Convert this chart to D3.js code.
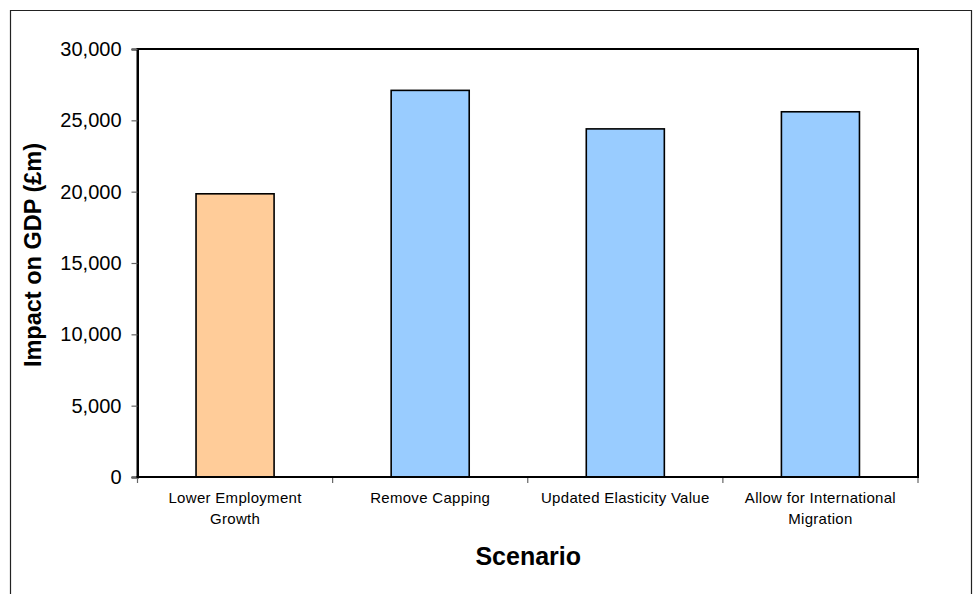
<!DOCTYPE html>
<html>
<head>
<meta charset="utf-8">
<script src="https://cdn.jsdelivr.net/npm/d3@7"></script>
<style>
  html, body { margin: 0; padding: 0; background: #fff; }
  svg { display: block; }
  text { font-family: "Liberation Sans", Arial, sans-serif; fill: #000; }
</style>
</head>
<body>
<svg id="chart" width="974" height="594"></svg>
<script>
// Scenario results: GDP impact in £m
const scenarios = [
  ["Lower Employment", "Growth"],
  ["Remove Capping"],
  ["Updated Elasticity Value"],
  ["Allow for International", "Migration"]
];
const impactValues = [19850, 27100, 24400, 25600];
const barColors = ["#FFCC99", "#99CCFF", "#99CCFF", "#99CCFF"];
const yTicks = [0, 5000, 10000, 15000, 20000, 25000, 30000];

const svg = d3.select("#chart");
const plot = { left: 137.5, top: 49, right: 918, bottom: 477 };

// Outer chart frame (runs off the bottom edge)
svg.append("path")
  .attr("d", "M10.5,600 V10.5 H971.5 V600")
  .attr("fill", "none")
  .attr("stroke", "#222")
  .attr("stroke-width", 1.2);

const x = d3.scaleBand()
  .domain(d3.range(scenarios.length))
  .range([plot.left, plot.right])
  .paddingInner(0.6)
  .paddingOuter(0.3);

const y = d3.scaleLinear()
  .domain([0, 30000])
  .range([plot.bottom, plot.top]);

// Plot area border
svg.append("rect")
  .attr("x", plot.left).attr("y", plot.top)
  .attr("width", plot.right - plot.left)
  .attr("height", plot.bottom - plot.top)
  .attr("fill", "#fff")
  .attr("stroke", "#000")
  .attr("stroke-width", 2);

// Bars
svg.append("g").selectAll("rect")
  .data(impactValues)
  .join("rect")
  .attr("x", (d, i) => x(i))
  .attr("y", d => y(d))
  .attr("width", x.bandwidth())
  .attr("height", d => y(0) - y(d))
  .attr("fill", (d, i) => barColors[i])
  .attr("stroke", "#000")
  .attr("stroke-width", 1.6);

// Y axis
const yAxis = svg.append("g")
  .attr("transform", `translate(${plot.left},0)`)
  .call(d3.axisLeft(y).tickValues(yTicks).tickSize(6).tickPadding(10)
    .tickFormat(d3.format(",")));
yAxis.select(".domain").attr("stroke", "#000").attr("stroke-width", 2);
yAxis.selectAll(".tick line").attr("stroke", "#666").attr("stroke-width", 1.2);
yAxis.selectAll(".tick text")
  .attr("font-size", 20)
  .attr("font-family", "'Liberation Sans', Arial, sans-serif")
  .attr("fill", "#000");

// X axis: category separators below the baseline
const sepPositions = d3.range(scenarios.length + 1).map(i => plot.left + i * (plot.right - plot.left) / scenarios.length);
svg.append("g").selectAll("line")
  .data(sepPositions)
  .join("line")
  .attr("x1", d => d).attr("x2", d => d)
  .attr("y1", plot.bottom).attr("y2", plot.bottom + 6)
  .attr("stroke", "#666").attr("stroke-width", 1.2);
svg.append("line")
  .attr("x1", plot.left - 1).attr("x2", plot.right + 1)
  .attr("y1", plot.bottom).attr("y2", plot.bottom)
  .attr("stroke", "#000").attr("stroke-width", 2);

// Category labels
const labels = svg.append("g").selectAll("text")
  .data(scenarios)
  .join("text")
  .attr("x", (d, i) => x(i) + x.bandwidth() / 2)
  .attr("y", 503)
  .attr("text-anchor", "middle")
  .attr("font-size", 15)
  .attr("letter-spacing", 0.3);
labels.selectAll("tspan")
  .data(d => d)
  .join("tspan")
  .attr("x", function () { return d3.select(this.parentNode).attr("x"); })
  .attr("dy", (d, i) => i === 0 ? 0 : 21)
  .text(d => d);

// Axis titles
svg.append("text")
  .attr("x", (plot.left + plot.right) / 2 + 0.5)
  .attr("y", 565)
  .attr("text-anchor", "middle")
  .attr("font-size", 25)
  .attr("font-weight", "bold")
  .text("Scenario");

svg.append("text")
  .attr("transform", "translate(41,255) rotate(-90)")
  .attr("text-anchor", "middle")
  .attr("font-size", 23.5)
  .attr("font-weight", "bold")
  .text("Impact on GDP (£m)");
</script>
</body>
</html>
